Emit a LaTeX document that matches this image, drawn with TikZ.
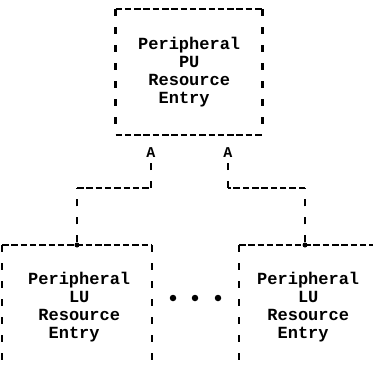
\documentclass[tikz,border=0pt]{standalone}
\usepackage{fontspec}
\newfontfamily\typewriter{Liberation Mono}[BoldFont={Liberation Mono Bold}]

\begin{document}
\begin{tikzpicture}[
  x=1pt,y=-1pt,
  entry/.style={font=\typewriter\bfseries\fontsize{17}{18}\selectfont,align=left,inner sep=0pt},
  frame/.style={inner sep=0pt,outer sep=0pt},
  hline/.style={line width=2pt,dash pattern=on 6.5pt off 2.8pt},
  vline/.style={line width=2.3pt,dash pattern=on 7pt off 11pt},
  tip/.style={font=\typewriter\bfseries\fontsize{15}{15}\selectfont,inner sep=1pt},
  dot/.style={circle,fill,inner sep=0pt,minimum size=5pt},
  more/.style={circle,fill,inner sep=0pt,minimum size=6.5pt}
]
\useasboundingbox (0,0) rectangle (373,370);
\clip (0,0) rectangle (373,370);

\node[frame,minimum width=147pt,minimum height=126pt] (pu) at (189,72) {};
\node[frame,minimum width=150pt,minimum height=150pt,anchor=north west] (lu1) at (2,245) {};
\node[frame,minimum width=150pt,minimum height=150pt,anchor=north west] (lu2) at (239,245) {};
\foreach \b in {pu,lu1,lu2} {
  \draw[hline] (\b.north west) -- (\b.north east);
  \draw[hline] (\b.south west) -- (\b.south east);
  \draw[vline] (\b.north west) -- (\b.south west);
  \draw[vline] (\b.north east) -- (\b.south east);
}

\node[entry,anchor=base west] (putext) at (138,103)
  {Peripheral\\\hphantom{0000}PU\\\hphantom{0}Resource\\\hphantom{00}Entry};
\node[entry,anchor=base west] (lu1text) at (28,338)
  {Peripheral\\\hphantom{0000}LU\\\hphantom{0}Resource\\\hphantom{00}Entry};
\node[entry,anchor=base west] (lu2text) at (257,338)
  {Peripheral\\\hphantom{0000}LU\\\hphantom{0}Resource\\\hphantom{00}Entry};

\node[tip] (a1) at (151,153) {A};
\node[tip] (a2) at (228,153) {A};
\node[dot] (j1) at (77,245) {};
\node[dot] (j2) at (305,245) {};
\coordinate (k1) at (a1 |- 0,188);
\coordinate (k2) at (j1 |- k1);
\coordinate (k3) at (a2 |- 0,188);
\coordinate (k4) at (j2 |- k3);
\draw[vline] (j1) -- (k2);
\draw[hline] (k2) -- (k1);
\draw[vline] (k1) -- (a1);
\draw[vline] (j2) -- (k4);
\draw[hline] (k4) -- (k3);
\draw[vline] (k3) -- (a2);

\foreach \x [count=\i] in {173,195,218}
  \node[more] (m\i) at (\x,298) {};
\end{tikzpicture}
\end{document}
